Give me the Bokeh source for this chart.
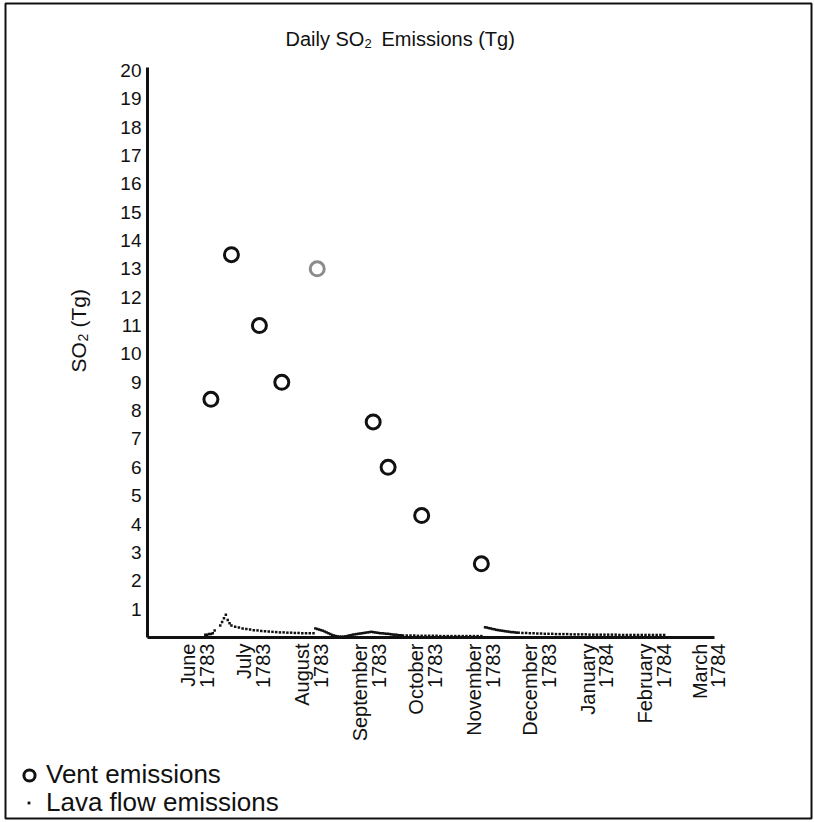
from math import pi
from bokeh.plotting import figure
from bokeh.models import (Range1d, FixedTicker, Label, BoxAnnotation, Legend, LegendItem)
from bokeh.embed import file_html
from bokeh.resources import INLINE

# ---------------- data ----------------
# x = days after 1 June 1783
month_days = [0, 30, 61, 92, 122, 153, 183, 214, 245, 274]
month_labels = ["June\n1783", "July\n1783", "August\n1783", "September\n1783",
                "October\n1783", "November\n1783", "December\n1783",
                "January\n1784", "February\n1784", "March\n1784"]
y_ticks = list(range(1, 21))

vent_day = [7, 18, 33, 45, 94, 102, 120, 152]
vent_so2 = [8.4, 13.5, 11.0, 9.0, 7.6, 6.0, 4.3, 2.6]
vent_grey_day = [64]
vent_grey_so2 = [13.0]

lava_day_a = [4, 5, 6, 7, 8, 9]
lava_so2_a = [0.10, 0.10, 0.12, 0.12, 0.15, 0.25]
lava_day_b = [12, 13, 14, 15, 16, 17, 18]
lava_so2_b = [0.42, 0.55, 0.68, 0.80, 0.62, 0.50, 0.42]
lava_day_c = list(range(20, 63, 2))
lava_so2_c = [0.38, 0.35, 0.32, 0.30, 0.28, 0.26, 0.25, 0.23, 0.22, 0.21, 0.20,
              0.19, 0.18, 0.18, 0.17, 0.17, 0.16, 0.16, 0.15, 0.15, 0.15, 0.15]
lava_day_d = list(range(63, 111))
lava_so2_d = [0.32, 0.30, 0.28, 0.26, 0.24, 0.21, 0.18, 0.15, 0.12, 0.09, 0.07, 0.05,
              0.04, 0.03, 0.03, 0.03, 0.04, 0.05, 0.07, 0.08, 0.10, 0.11, 0.12, 0.13,
              0.14, 0.15, 0.16, 0.17, 0.18, 0.19, 0.20, 0.19, 0.18, 0.17, 0.16, 0.15,
              0.15, 0.14, 0.13, 0.13, 0.12, 0.11, 0.10, 0.10, 0.09, 0.08, 0.08, 0.07]
lava_day_e = list(range(112, 153, 2))
lava_so2_e = [0.07, 0.07, 0.07, 0.06, 0.06, 0.06, 0.06, 0.06, 0.06, 0.05, 0.05,
              0.05, 0.05, 0.05, 0.05, 0.05, 0.05, 0.05, 0.05, 0.05, 0.05]
lava_day_f = list(range(154, 173))
lava_so2_f = [0.36, 0.35, 0.33, 0.32, 0.30, 0.29, 0.27, 0.26, 0.25, 0.24, 0.23,
              0.22, 0.21, 0.20, 0.19, 0.19, 0.18, 0.17, 0.17]
lava_day_g = list(range(174, 251, 2))
lava_so2_g = [0.16, 0.16, 0.15, 0.15, 0.14, 0.14, 0.13, 0.13, 0.13, 0.12, 0.12, 0.12,
              0.12, 0.11, 0.11, 0.11, 0.11, 0.11, 0.10, 0.10, 0.10, 0.10, 0.10, 0.10,
              0.10, 0.10, 0.09, 0.09, 0.09, 0.09, 0.09, 0.09, 0.09, 0.09, 0.09, 0.09,
              0.09, 0.09, 0.09]

lava_day = lava_day_a + lava_day_b + lava_day_c + lava_day_d + lava_day_e + lava_day_f + lava_day_g
lava_so2 = lava_so2_a + lava_so2_b + lava_so2_c + lava_so2_d + lava_so2_e + lava_so2_f + lava_so2_g
assert len(lava_day) == len(lava_so2)

# ---------------- layout ----------------
W, H = 814, 822
AX_L, AX_R, AX_T, AX_B = 147, 714, 67, 637      # axis box in pixels
X0, X1 = -27, 277                                # axis extent, days
Y0, Y1 = 0, 20.1                                 # axis extent, Tg
PXD = (AX_R - AX_L) / (X1 - X0)                  # px per day
PXT = (AX_B - AX_T) / (Y1 - Y0)                  # px per Tg

def dx(px):
    return X0 + (px - AX_L) / PXD

def dy(py):
    return Y0 + (AX_B - py) / PXT

FONT = "Liberation Sans"
INK = "#111111"

# the frame covers the whole canvas; the axes are pinned inside it
p = figure(width=W, height=H, x_range=Range1d(dx(0), dx(W)), y_range=Range1d(dy(H), dy(0)),
           output_backend="svg", toolbar_location=None, min_border=0)
p.title.visible = False
p.xgrid.visible = False
p.ygrid.visible = False
p.outline_line_color = None
p.background_fill_color = "white"
p.border_fill_color = "white"

for ax in (p.xaxis[0], p.yaxis[0]):
    ax.axis_line_width = 3
    ax.axis_line_color = INK
    ax.major_tick_line_color = None
    ax.minor_tick_line_color = None
    ax.major_label_text_font = FONT
    ax.major_label_text_color = INK

p.yaxis.fixed_location = X0
p.yaxis.bounds = (Y0, Y1)
p.yaxis.ticker = FixedTicker(ticks=y_ticks)
p.yaxis.major_label_standoff = 0
p.yaxis.major_label_text_font_size = "19px"

p.xaxis.fixed_location = Y0
p.xaxis.bounds = (X0, X1)
p.xaxis.ticker = FixedTicker(ticks=month_days)
p.xaxis.major_label_overrides = {d: lab for d, lab in zip(month_days, month_labels)}
p.xaxis.major_label_orientation = pi / 2
p.xaxis.major_label_standoff = 0
p.xaxis.major_label_text_font_size = "20px"
p.xaxis.major_label_text_line_height = 0.85

r_lava = p.scatter(lava_day, lava_so2, marker="square", size=2.5,
                   fill_color=INK, line_color=None)
r_vent = p.scatter(vent_day, vent_so2, marker="circle", size=14,
                   fill_color=None, line_color=INK, line_width=3)
r_grey = p.scatter(vent_grey_day, vent_grey_so2, marker="circle", size=14,
                   fill_color=None, line_color="#8c8c8c", line_width=3)

# title with subscript
p.add_layout(Label(x=dx(285), y=dy(38), text="Daily SO", text_font=FONT,
                   text_font_size="20px", text_color=INK, text_baseline="alphabetic"))
p.add_layout(Label(x=dx(364), y=dy(43), text="2", text_font=FONT,
                   text_font_size="13px", text_color=INK, text_baseline="alphabetic"))
p.add_layout(Label(x=dx(381), y=dy(38), text="Emissions (Tg)", text_font=FONT,
                   text_font_size="20px", text_color=INK, text_baseline="alphabetic"))

# y-axis title, rotated
p.add_layout(Label(x=dx(78), y=dy(372), text="SO", angle=pi / 2, text_font=FONT,
                   text_font_size="21px", text_color=INK, text_baseline="alphabetic"))
p.add_layout(Label(x=dx(82), y=dy(341), text="2", angle=pi / 2, text_font=FONT,
                   text_font_size="14px", text_color=INK, text_baseline="alphabetic"))
p.add_layout(Label(x=dx(78), y=dy(327), text="(Tg)", angle=pi / 2, text_font=FONT,
                   text_font_size="21px", text_color=INK, text_baseline="alphabetic"))

# legends (two, so that each marker keeps its own size)
leg1 = Legend(items=[LegendItem(label="Vent emissions", renderers=[r_vent])],
              location=(15, H - 790), glyph_width=28, glyph_height=28,
              label_standoff=3, padding=0, margin=0, spacing=0,
              border_line_color=None, background_fill_alpha=0,
              label_text_font=FONT, label_text_font_size="26px", label_text_color=INK)
leg2 = Legend(items=[LegendItem(label="Lava flow emissions", renderers=[r_lava])],
              location=(25, H - 818), glyph_width=7, glyph_height=7,
              label_standoff=14, padding=0, margin=0, spacing=0,
              border_line_color=None, background_fill_alpha=0,
              label_text_font=FONT, label_text_font_size="26px", label_text_color=INK)
p.add_layout(leg1)
p.add_layout(leg2)

# outer frame
p.add_layout(BoxAnnotation(left=dx(5), right=dx(811), top=dy(3), bottom=dy(818),
                           fill_alpha=0, line_color=INK, line_alpha=1, line_width=2))

open("out.html", "w").write(file_html(p, INLINE))
